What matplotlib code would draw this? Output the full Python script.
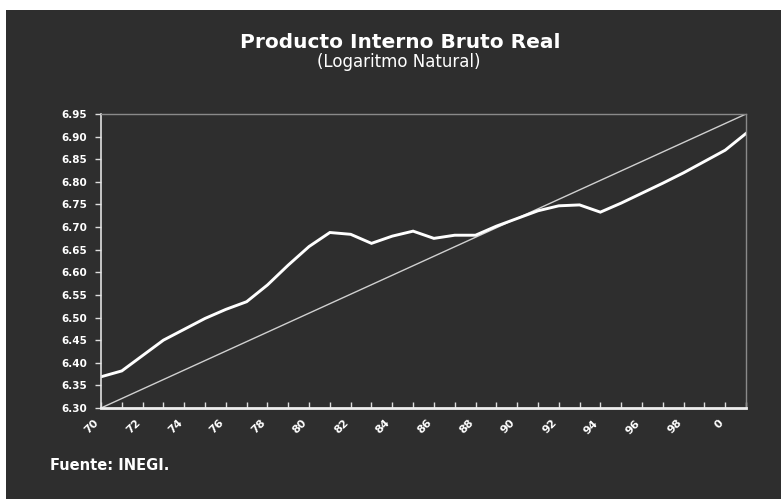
import matplotlib.pyplot as plt
from matplotlib.patches import Rectangle

# PIB real (logaritmo natural), 1970-2001
years = list(range(1970, 2002))
pib_log = [6.369, 6.382, 6.416, 6.450, 6.474, 6.498, 6.518, 6.535, 6.572, 6.616,
           6.657, 6.688, 6.684, 6.664, 6.680, 6.691, 6.675, 6.682, 6.682, 6.702,
           6.719, 6.736, 6.747, 6.749, 6.733, 6.753, 6.775, 6.797, 6.820, 6.845,
           6.870, 6.907]

# tendencia lineal (extremos)
trend_years = [1970, 2001]
trend_values = [6.30, 6.95]

tick_years = list(range(1970, 2001, 2))
tick_labels = ['70', '72', '74', '76', '78', '80', '82', '84', '86', '88',
               '90', '92', '94', '96', '98', '0']
y_ticks = [6.30, 6.35, 6.40, 6.45, 6.50, 6.55, 6.60, 6.65, 6.70, 6.75,
           6.80, 6.85, 6.90, 6.95]

plt.rcParams['font.family'] = ['DejaVu Sans']

bg = '#2e2e2e'
fig = plt.figure(figsize=(7.81, 4.99), dpi=100, facecolor='white')
# fondo oscuro (la imagen original tiene un margen blanco arriba y a la izquierda)
fig.patches.append(Rectangle((6 / 781, 0), 1, 1 - 10 / 499, transform=fig.transFigure,
                             facecolor=bg, edgecolor='none', zorder=-10))

ax = fig.add_axes([101 / 781, 1 - 408 / 499, 645 / 781, 294 / 499])
ax.set_facecolor(bg)

ax.plot(trend_years, trend_values, color='#d0d0d0', linewidth=1.0)
ax.plot(years, pib_log, color='white', linewidth=2.1, solid_joinstyle='miter')

ax.set_xlim(1970, 2001)
ax.set_ylim(6.30, 6.95)

ax.set_yticks(y_ticks)
ax.set_yticklabels(['%.2f' % v for v in y_ticks], fontsize=7.5, fontweight='bold',
                   color='white')
ax.tick_params(axis='y', direction='out', length=4, width=1, color='#dddddd', pad=6)

ax.set_xticks(years, minor=True)
ax.set_xticks(tick_years)
ax.set_xticklabels(tick_labels, rotation=45, ha='right', fontsize=8, fontweight='bold',
                   color='white')
ax.tick_params(axis='x', which='both', direction='in', length=4, width=1, color='#dddddd',
               pad=7)

ax.spines['left'].set_color('#e0e0e0')
ax.spines['left'].set_linewidth(1.2)
ax.spines['bottom'].set_color('#eeeeee')
ax.spines['bottom'].set_linewidth(2)
for side in ['top', 'right']:
    ax.spines[side].set_color('#8a8a8a')
    ax.spines[side].set_linewidth(1)

fig.text(400 / 781, 1 - 42 / 499, 'Producto Interno Bruto Real', ha='center', va='center',
         fontsize=14.5, fontweight='bold', color='white')
fig.text(399 / 781, 1 - 62 / 499, '(Logaritmo Natural)', ha='center', va='center',
         fontsize=12, color='white')
fig.text(50 / 781, 1 - 465 / 499, 'Fuente: INEGI.', ha='left', va='center',
         fontsize=10.5, fontweight='bold', color='white')

fig.savefig('out.png', dpi=100, facecolor=fig.get_facecolor())
